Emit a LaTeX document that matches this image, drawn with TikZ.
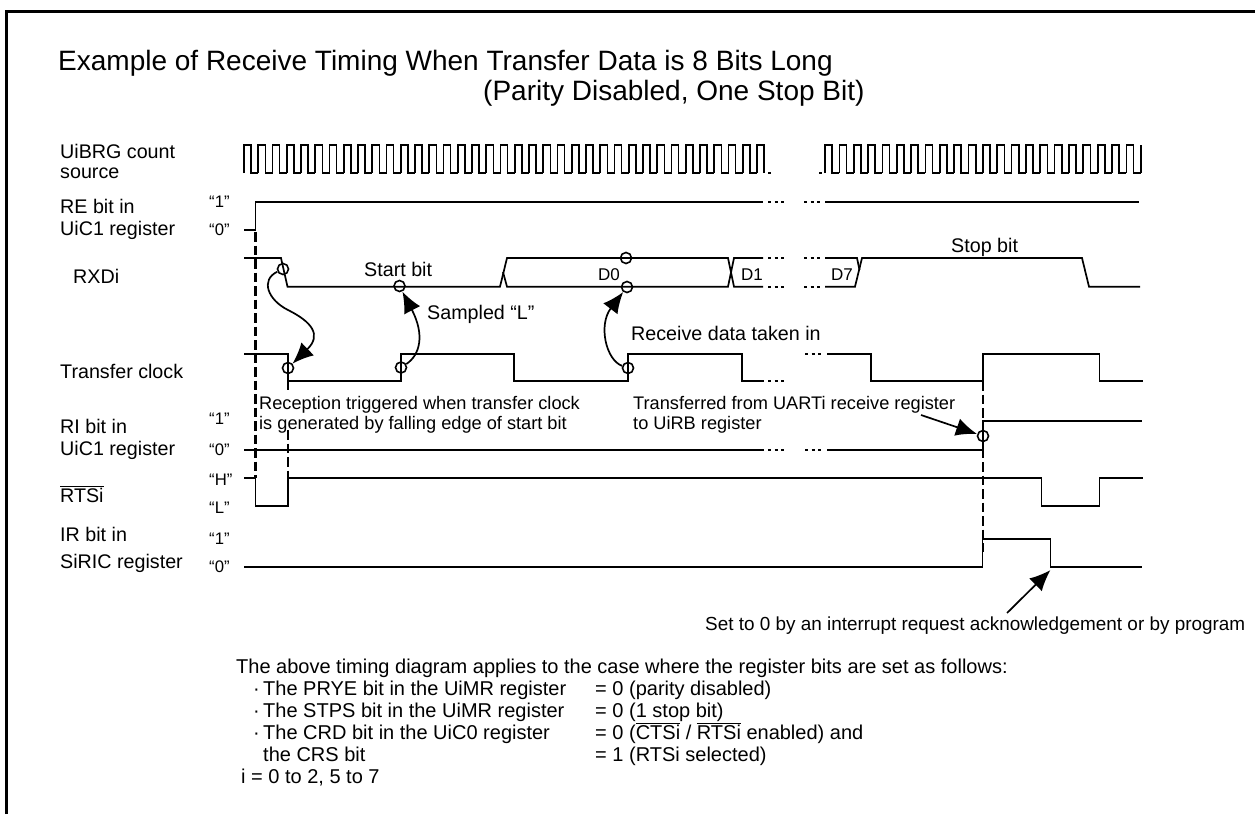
\documentclass[tikz,border=0pt]{standalone}
\usepackage{fontspec}
\setmainfont{Liberation Sans}
\usetikzlibrary{arrows.meta}
\newcommand\ovl[1]{\leavevmode\vbox{\hrule height 1pt\kern1pt\hbox{#1}}}
\tikzset{
  sig/.style={line width=1.7pt,line join=miter},
  dotsig/.style={line width=1.7pt,dash pattern=on 3.2pt off 3.4pt},
  dashv/.style={line width=2.2pt,dash pattern=on 9.5pt off 4pt},
  ring/.style={circle,draw,line width=1.6pt,minimum size=11pt,inner sep=0pt},
  lab/.style={anchor=base west,inner sep=0pt,font=\fontsize{19.7}{22}\selectfont},
  ttl/.style={anchor=base west,inner sep=0pt,font=\fontsize{28}{32}\selectfont},
  lvl/.style={anchor=base west,inner sep=0pt,font=\fontsize{16.7}{19}\selectfont},
  mid/.style={anchor=base west,inner sep=0pt,font=\fontsize{19.7}{22}\selectfont},
  dat/.style={anchor=base,inner sep=0pt,font=\fontsize{17}{20}\selectfont},
  sml/.style={anchor=base west,inner sep=0pt,font=\fontsize{18.2}{21}\selectfont},
  note/.style={anchor=base west,inner sep=0pt,font=\fontsize{20}{23}\selectfont},
  pt/.style={-{Latex[length=21pt,width=18pt]},line width=1.7pt}
}
\begin{document}
\begin{tikzpicture}[x=1pt,y=-1pt]
\useasboundingbox (0,0) rectangle (1255,814);
% frame
\draw[line width=3pt] (6.5,814) -- (6.5,11.5) -- (1255,11.5);
% title
\node[ttl] (t1) at (58,70) {Example of Receive Timing When Transfer Data is 8 Bits Long};
\node[ttl] (t2) at (483,100) {(Parity Disabled, One Stop Bit)};
% left labels
\node[lab] (l1) at (60,158) {UiBRG count};
\node[lab] (l2) at (60,178.5) {source};
\node[lab] (l3) at (60,213) {RE bit in};
\node[lab] (l4) at (60,235) {UiC1 register};
\node[lab] (l5) at (73,283) {RXDi};
\node[lab] (l6) at (60,378) {Transfer clock};
\node[lab] (l7) at (60,433) {RI bit in};
\node[lab] (l8) at (60,455) {UiC1 register};
\node[lab] (l9) at (60,502) {\ovl{RTSi}};
\node[lab] (l10) at (60,541) {IR bit in};
\node[lab] (l11) at (60,568) {SiRIC register};
% levels
\node[lvl] (v1) at (209,207) {“1”};
\node[lvl] (v2) at (209,235) {“0”};
\node[lvl] (v3) at (209,424) {“1”};
\node[lvl] (v4) at (209,455) {“0”};
\node[lvl] (v5) at (209,485) {“H”};
\node[lvl] (v6) at (209,513) {“L”};
\node[lvl] (v7) at (209,544) {“1”};
\node[lvl] (v8) at (209,572) {“0”};
% clock
\foreach \k in {0,...,36}{
  \pgfmathsetmacro\xa{244+14.25*\k}
  \pgfmathsetmacro\xb{\xa+7.1}
  \pgfmathsetmacro\xc{\xb+7.15}
  \ifnum\k=36
    \draw[sig] (\xa,173) -- (\xa,144.9) -- (\xb,144.9) -- (\xb,173);
  \else
    \draw[sig] (\xa,173) -- (\xa,144.9) -- (\xb,144.9) -- (\xb,173) -- (\xc,173);
  \fi
}
\foreach \k in {0,...,21}{
  \pgfmathsetmacro\xa{825+14.35*\k}
  \pgfmathsetmacro\xb{\xa+7.15}
  \pgfmathsetmacro\xc{\xb+7.2}
  \draw[sig] (\xa,173) -- (\xa,144.9) -- (\xb,144.9) -- (\xb,173) -- (\xc,173);
}
\draw[sig] (1140.7,173) -- (1140.7,144.9);
\draw[sig] (768,173) -- (771,173);
\draw[sig] (819,173) -- (822,173);
% RE
\draw[sig] (244,230) -- (255.5,230) -- (255.5,202) -- (763,202);
\draw[dotsig] (768,202) -- (787,202);
\draw[dotsig] (804,202) -- (823,202);
\draw[sig] (825,202) -- (1139,202);
% dashed guides
\draw[dashv] (255.5,232) -- (255.5,478);
\draw[dashv] (288,381) -- (288,390);
\draw[dashv] (288,430) -- (288,478);
\draw[dashv] (983,381) -- (983,552);
% RXD
\draw[sig] (244,258) -- (281,258) -- (287.5,286.7) -- (500,286.7) -- (507,258) -- (728,258) -- (734,286.7) -- (763,286.7);
\draw[sig] (503,272) -- (507,286.7) -- (728,286.7) -- (734,258) -- (763,258);
\draw[dotsig] (768,258) -- (787,258);
\draw[dotsig] (804,258) -- (823,258);
\draw[dotsig] (768,286.7) -- (787,286.7);
\draw[dotsig] (804,286.7) -- (823,286.7);
\draw[sig] (825,258) -- (857,258) -- (859.5,270);
\draw[sig] (825,286.7) -- (855,286.7) -- (862,258) -- (1082,258) -- (1089,286.7) -- (1140,286.7);
% transfer clock
\draw[sig] (244,353.9) -- (288,353.9) -- (288,381) -- (401,381) -- (401,353.9) -- (514,353.9) -- (514,381) -- (628,381) -- (628,353.9) -- (742,353.9) -- (742,381) -- (764,381);
\draw[dotsig] (768,381) -- (787,381);
\draw[dotsig] (805,353.9) -- (824,353.9);
\draw[sig] (827,353.9) -- (871,353.9) -- (871,381) -- (983,381) -- (983,353.9) -- (1099.5,353.9) -- (1099.5,381) -- (1143,381);
% RI
\draw[sig] (244,450) -- (764,450);
\draw[dotsig] (768,450) -- (787,450);
\draw[dotsig] (805,450) -- (824,450);
\draw[sig] (827,450) -- (983,450) -- (983,421) -- (1142,421);
% RTS
\draw[sig] (244,477.7) -- (255.5,477.7) -- (255.5,506) -- (288,506) -- (288,477.7) -- (1041.5,477.7) -- (1041.5,506) -- (1099.5,506) -- (1099.5,477.7) -- (1143,477.7);
% IR
\draw[sig] (244,567) -- (982.5,567) -- (982.5,539) -- (1050.5,539) -- (1050.5,567) -- (1142,567);
% rings
\node[ring] (ra) at (283,269) {};
\node[ring] (rb) at (399.5,286) {};
\node[ring] (rc) at (626,258) {};
\node[ring] (rd) at (627,287) {};
\node[ring] (re) at (288,368) {};
\node[ring] (rf) at (401,367.5) {};
\node[ring] (rg) at (628,368) {};
\node[ring] (rh) at (983,436) {};
% texts in diagram
\node[mid] (s1) at (364,276) {Start bit};
\node[mid] (s2) at (427,319) {Sampled “L”};
\node[mid] (s3) at (951,252) {Stop bit};
\node[mid] (s4) at (631,340) {Receive data taken in};
\node[dat] (d0) at (609,280) {D0};
\node[dat] (d1) at (752,280) {D1};
\node[dat] (d7) at (842,280) {D7};
\node[sml] (n1) at (259,409) {Reception triggered when transfer clock};
\node[sml] (n2) at (259,429) {is generated by falling edge of start bit};
\node[sml] (n3) at (633,409) {Transferred from UARTi receive register};
\node[sml] (n4) at (633,429) {to UiRB register};
\node[sml,font=\fontsize{18.9}{21}\selectfont] (n5) at (705,630) {Set to 0 by an interrupt request acknowledgement or by program};
% arrows
\draw[pt] (ra) .. controls (260,280) and (268,300) .. (288,310) .. controls (312,322) and (322,335) .. (re);
\draw[pt] (rf) .. controls (420,355) and (425,335) .. (rb);
\draw[pt] (rg) .. controls (606,360) and (598,325) .. (rd);
\coordinate (fa) at (921,415);
\draw[pt] (fa) -- (rh);
\coordinate (fb) at (1007,613);
\coordinate (fc) at (1050.5,570);
\draw[pt] (fb) -- (fc);
% bottom notes
\node[note] (b1) at (236,673) {The above timing diagram applies to the case where the register bits are set as follows:};
\node[note] (b2) at (253,695) {·};
\node[note] (b3) at (263,695) {The PRYE bit in the UiMR register};
\node[note] (b4) at (595,695) {= 0 (parity disabled)};
\node[note] (b5) at (253,717) {·};
\node[note] (b6) at (263,717) {The STPS bit in the UiMR register};
\node[note] (b7) at (595,717) {= 0 (1 stop bit)};
\node[note] (b8) at (253,739) {·};
\node[note] (b9) at (263,739) {The CRD bit in the UiC0 register};
\node[note] (b10) at (595,739) {= 0 (\ovl{CTSi} / \ovl{RTSi} enabled) and};
\node[note] (b11) at (263,761) {the CRS bit};
\node[note] (b12) at (595,761) {= 1 (RTSi selected)};
\node[note] (b13) at (241,783) {i = 0 to 2, 5 to 7};
\end{tikzpicture}
\end{document}
